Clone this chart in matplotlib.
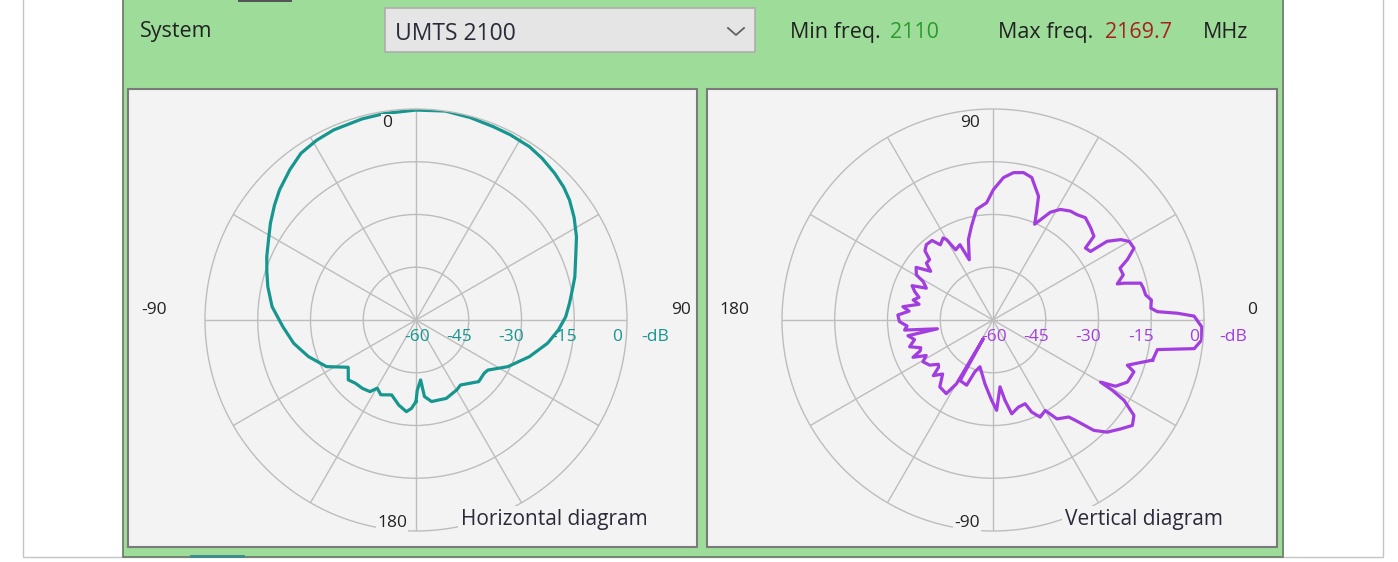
import numpy as np
import matplotlib
matplotlib.use("Agg")
import matplotlib.pyplot as plt
from matplotlib.patches import Rectangle

# Horizontal diagram: azimuth in degrees (0 = top, clockwise), level in dB
h_angle = [-180, -177, -174, -168.6, -162, -154.8, -150.4, -147.3, -142, -136.3,
           -131.5, -124.9, -117.5, -108.8, -100.8, -92.9, -84.7, -77.3, -72, -67,
           -61, -56.4, -51, -46.4, -40, -34.6, -29, -23.4, -15, -8.7, 0, 8, 15,
           21.8, 27, 33.2, 38, 43.4, 48, 52, 57, 62.6, 68, 74.8, 79, 83.8, 88.7,
           94, 100, 107.9, 116.9, 124.9, 128, 134.5, 145.6, 149.7, 158.9, 169.2,
           173.7, 175.6, 179]
h_gain = [-36.8, -34.8, -33.8, -35.3, -37.6, -36.5, -37.7, -35.8, -35.3, -35.1,
          -34.3, -36.5, -31.3, -27.7, -24.6, -22.1, -18.9, -16.8, -15.4, -13.9,
          -12.1, -10.3, -8.2, -6.4, -4.2, -2.4, -1.6, -1.1, -0.8, -0.6, -0.3, 0.0, -0.4,
          -0.8, -0.9, -1.1, -1.7, -2.6, -3.5, -4.6, -6.4, -8.6, -11.0, -13.2, -14.7, -16.1, -17.4,
          -19.4, -22.0, -26.1, -30.7, -35.1, -35.4, -35.0, -37.6, -37.0, -36.1, -36.4,
          -38.1, -42.9, -40.0]

# Vertical diagram: elevation in degrees (0 = right, counter-clockwise), level in dB
v_angle = [-14.1, -10.2, -8.1, -5.5, -1.9, 1.1, 2.1, 2.9, 4.3, 7.2, 9.3, 12, 14,
           15.7, 16.2, 19.1, 22.2, 24.2, 27, 30, 32.2, 34.6, 35.1, 37.9, 39.7,
           43.4, 47.9, 51.5, 54.6, 58.7, 62, 66.5, 68, 69.8, 74.8, 78.3, 82.1,
           85.8, 89.8, 93.1, 98.5, 102.9, 107, 111.5, 113.7, 118, 120, 121.3, 125,
           127.5, 131.5, 134.5, 136.4, 139.5, 142, 145.6, 149.5, 151.1, 154.5, 157,
           160, 163, 165.9, 168, 171.6, 174, 177, 181, 184, 186.5, 189, 190.5, 194,
           197.8, 201, 203, 205, 208, 210.8, 215.5, 219, 221, 223, 227, 231.5,
           237.6, 240.2, 242.5, 241.5, 248, 250.7, 254.4, 262.8, 269.1, 272.3, 276,
           278.5, 281.3, 286.3, 291, 292.8, 295.9, 300, 302.9, 308, 309.7, 312.4,
           315.5, 319.5, 322.9, 325.9, 328.5, 329.5, 330, 331.6, 335.2, 339.8, 341.4]
v_gain = [-13.2, -12.5, -2.2, -0.4, -0.6, -2.8, -7.5, -13.2, -15.0, -14.6, -16.0, -16.3, -16.7,
          -21.3, -23.2, -20.8, -21.0, -18.1, -15.0, -15.3, -17.1, -20.6, -26.1, -26.7, -22.7,
          -21.8, -20.8, -21.7, -22.0, -23.2, -25.3, -30.3, -27.0, -22.5, -18.0, -17.2, -17.7,
          -19.4, -22.9, -26.6, -28.2, -32.6, -36.1, -41.6, -36.6, -37.4, -33.6, -32.7, -33.9,
          -31.5, -31.4, -32.4, -35.1, -35.1, -37.5, -33.5, -34.7, -37.3, -39.0, -35.0,
          -36.3, -38.0, -36.6, -38.5, -34.1, -36.0, -32.9, -33.4, -35.5, -34.7, -44.0, -35.4, -37.0,
          -35.1, -38.0, -37.5, -34.9, -38.5, -36.8, -37.9, -40.0, -39.5, -36.8, -39.0, -35.7,
          -35.2, -39.1, -54.0, -40.4, -40.0, -44.4, -46.2, -41.7, -37.1, -34.3, -40.9,
          -36.9, -32.8, -34.2, -34.5, -31.6, -29.3, -30.3, -26.5, -25.0, -22.6, -17.5,
          -14.5, -12.3, -10.3, -11.6, -16.3, -20.6, -24.7, -20.4, -17.9, -17.3, -19.7]

r_ticks = [-60, -45, -30, -15, 0]

W, H = 1398, 562
TEAL = "#17968f"
PURPLE = "#a23ee0"
PANEL = "#f3f3f3"
GRID = "#bdbdbd"
UI_FONT = "Open Sans"

fig = plt.figure(figsize=(W / 100, H / 100), dpi=100)

# background in pixel coordinates
bg = fig.add_axes([0, 0, 1, 1])
bg.set_xlim(0, W)
bg.set_ylim(H, 0)
bg.axis("off")
bg.add_patch(Rectangle((23, -5), 1360, 562, fc="white", ec="#c4c4c4", lw=1.0))
bg.add_patch(Rectangle((123, -2), 1160, 559, fc="#9edc9a", ec="#6f7f6f", lw=1.3))
bg.add_patch(Rectangle((238, -1), 54, 3, fc="#555555", ec="none"))
bg.add_patch(Rectangle((190, 555), 55, 3, fc="#3f8c8c", ec="none"))
bg.add_patch(Rectangle((128, 89), 569, 458, fc=PANEL, ec="#7a7a7a", lw=1.5))
bg.add_patch(Rectangle((707, 89), 570, 458, fc=PANEL, ec="#7a7a7a", lw=1.5))
bg.add_patch(Rectangle((385, 8), 370, 44, fc="#e5e5e5", ec="#adadad", lw=1.2))
bg.plot([728, 736, 744], [28, 35, 28], color="#606060", lw=1.3)

for x, y, s, c, fs in [(140, 37, "System", "#222222", 15.5),
                       (395, 40, "UMTS 2100", "#2a2a3a", 16.5),
                       (790, 38, "Min freq.", "#222222", 15.5),
                       (890, 38, "2110", "#2e9a2e", 15.5),
                       (998, 38, "Max freq.", "#222222", 15.5),
                       (1105, 38, "2169.7", "#a82020", 15.5),
                       (1203, 38, "MHz", "#222222", 15.5)]:
    bg.text(x, y, s, color=c, fontsize=fs, family=UI_FONT, va="baseline", ha="left")


def polar_at(cx, cy, r):
    ax = fig.add_axes([(cx - r) / W, 1 - (cy + r) / H, 2 * r / W, 2 * r / H],
                      projection="polar")
    ax.set_facecolor("none")
    ax.set_ylim(-60, 0)
    ax.set_yticks(r_ticks[1:-1])
    ax.set_xticks(np.deg2rad(np.arange(0, 360, 30)))
    ax.set_xticklabels([])
    ax.set_yticklabels([])
    ax.grid(True, color=GRID, lw=1.0)
    ax.spines["polar"].set_color(GRID)
    ax.spines["polar"].set_linewidth(1.0)
    return ax


R = 211
lab = dict(family=UI_FONT, fontsize=12.5, textcoords="offset pixels",
           ha="center", va="center", annotation_clip=False)
box = dict(fc=PANEL, ec="none", pad=0.5)

# --- horizontal diagram ---
axh = polar_at(416, 320, R)
axh.set_theta_zero_location("N")
axh.set_theta_direction(-1)
ta = np.deg2rad(np.append(h_angle, h_angle[0]))
axh.plot(ta, np.append(h_gain, h_gain[0]), color=TEAL, lw=2.3)
right = np.pi / 2
for v in r_ticks:
    axh.annotate(str(v), xy=(right, v), xytext=(1 if v == -60 else -10, -17),
                 color=TEAL, **lab)
axh.annotate("-dB", xy=(right, 0), xytext=(28, -17), color=TEAL, **lab)
for s, a, off in [("0", 0, (-29, -14)), ("180", 180, (-24, 8)),
                  ("-90", -90, (-51, 10)), ("90", 90, (54, 10))]:
    axh.annotate(s, xy=(np.deg2rad(a), 0), xytext=off, color="#222222", bbox=box, **lab)

# --- vertical diagram ---
axv = polar_at(993, 320, R)
axv.set_theta_zero_location("E")
axv.set_theta_direction(1)
tv = np.deg2rad(np.append(v_angle, v_angle[0]))
axv.plot(tv, np.append(v_gain, v_gain[0]), color=PURPLE, lw=2.3)
for v in r_ticks:
    axv.annotate(str(v), xy=(0, v), xytext=(1 if v == -60 else -10, -17),
                 color=PURPLE, **lab)
axv.annotate("-dB", xy=(0, 0), xytext=(29, -17), color=PURPLE, **lab)
for s, a, off in [("90", 90, (-23, -14)), ("-90", -90, (-26, 8)),
                  ("180", 180, (-48, 10)), ("0", 0, (48, 10))]:
    axv.annotate(s, xy=(np.deg2rad(a), 0), xytext=off, color="#222222", bbox=box, **lab)

# diagram names sit on top of the rings
for x, s in [(461, "Horizontal diagram"), (1065, "Vertical diagram")]:
    fig.text(x, 525, s, transform=bg.transData, color="#2a2a3a", fontsize=15,
             family=UI_FONT, va="baseline", ha="left",
             bbox=dict(fc=PANEL, ec="none", pad=2))

fig.savefig("out.png", dpi=100)
